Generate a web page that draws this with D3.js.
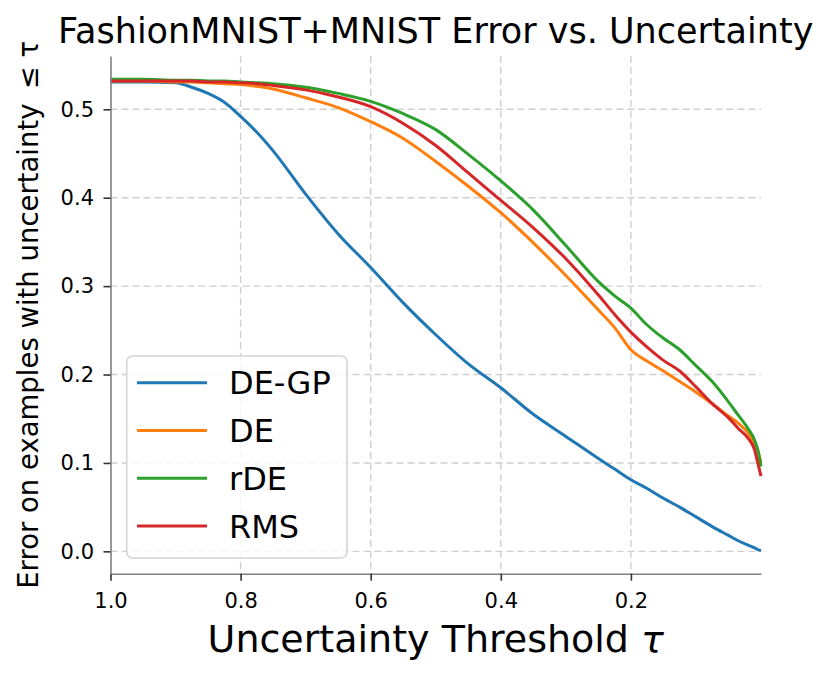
<!DOCTYPE html>
<html>
<head>
<meta charset="utf-8">
<script src="https://cdn.jsdelivr.net/npm/d3@7"></script>
<style>
  body { margin: 0; background: #fff; }
  text { font-family: "DejaVu Sans", sans-serif; }
</style>
</head>
<body>
<svg id="chart" width="830" height="679"></svg>
<script>
// uncertainty thresholds (shared x grid, descending)
const tau = [1.0, 0.95, 0.9, 0.875, 0.85, 0.825, 0.8, 0.775, 0.75, 0.7, 0.65, 0.6, 0.55, 0.5, 0.45, 0.4,
  0.35, 0.3, 0.25, 0.225, 0.2, 0.175, 0.15, 0.125, 0.1, 0.075, 0.05, 0.035, 0.02, 0.01, 0.005, 0.0];

const deGP = [0.531, 0.531, 0.530, 0.525, 0.518, 0.508, 0.492, 0.474, 0.453, 0.404, 0.359, 0.321, 0.281, 0.245, 0.212, 0.185,
  0.155, 0.130, 0.105, 0.093, 0.081, 0.071, 0.060, 0.050, 0.039, 0.028, 0.018, 0.012, 0.007, 0.004, 0.002, 0.001];
const de = [0.532, 0.532, 0.531, 0.531, 0.530, 0.529, 0.528, 0.526, 0.523, 0.513, 0.502, 0.486, 0.467, 0.441, 0.413, 0.383,
  0.349, 0.312, 0.273, 0.253, 0.228, 0.215, 0.204, 0.192, 0.180, 0.167, 0.153, 0.145, 0.134, 0.122, 0.114, 0.100];
const rDE = [0.534, 0.534, 0.533, 0.533, 0.532, 0.532, 0.531, 0.530, 0.529, 0.525, 0.518, 0.509, 0.495, 0.477, 0.449, 0.419,
  0.386, 0.346, 0.305, 0.289, 0.275, 0.256, 0.241, 0.228, 0.210, 0.192, 0.169, 0.154, 0.139, 0.126, 0.115, 0.096];
const rms = [0.532, 0.532, 0.532, 0.532, 0.531, 0.531, 0.530, 0.529, 0.527, 0.522, 0.514, 0.503, 0.484, 0.459, 0.428, 0.397,
  0.366, 0.331, 0.290, 0.268, 0.248, 0.231, 0.216, 0.204, 0.186, 0.167, 0.151, 0.139, 0.128, 0.115, 0.100, 0.085];

const seriesNames = ['DE-GP', 'DE', 'rDE', 'RMS'];
const seriesColors = ['#1f77b4', '#ff7f0e', '#2ca02c', '#d62728'];
const seriesValues = [deGP, de, rDE, rms];

const xTicks = [1.0, 0.8, 0.6, 0.4, 0.2];
const yTicks = [0.0, 0.1, 0.2, 0.3, 0.4, 0.5];

const plot = { left: 110.5, right: 761, top: 56, bottom: 573.7 };

const svg = d3.select('#chart');

const x = d3.scaleLinear().domain([1.0, 0.0]).range([plot.left, plot.right]);
const y = d3.scaleLinear().domain([-0.0253, 0.5603]).range([plot.bottom, plot.top]);

// grid
const grid = svg.append('g').attr('stroke', '#d0d0d0').attr('stroke-width', 1.4)
  .attr('stroke-dasharray', '7,4');
grid.selectAll('.gx')
  .data(xTicks.slice(1))
  .enter()
  .append('line')
  .attr('x1', d => x(d)).attr('x2', d => x(d))
  .attr('y1', plot.top).attr('y2', plot.bottom);
grid.selectAll('.gy')
  .data(yTicks)
  .enter()
  .append('line')
  .attr('x1', plot.left).attr('x2', plot.right)
  .attr('y1', d => y(d)).attr('y2', d => y(d));

// lines
const line = d3.line()
  .x((d, i) => x(tau[i]))
  .y(d => y(d))
  .curve(d3.curveMonotoneX);

svg.selectAll('.series')
  .data(seriesValues)
  .enter()
  .append('path')
  .attr('fill', 'none')
  .attr('stroke', (d, i) => seriesColors[i])
  .attr('stroke-width', 3)
  .attr('stroke-linejoin', 'round')
  .attr('d', d => line(d));

// axes
const xAxis = svg.append('g')
  .attr('transform', `translate(0,${plot.bottom})`)
  .call(d3.axisBottom(x).tickValues(xTicks).tickFormat(d3.format('.1f'))
    .tickSize(7).tickSizeOuter(0).tickPadding(12.5));
const yAxis = svg.append('g')
  .attr('transform', `translate(${plot.left},0)`)
  .call(d3.axisLeft(y).tickValues(yTicks).tickFormat(d3.format('.1f'))
    .tickSize(7).tickSizeOuter(0).tickPadding(9.5));

[xAxis, yAxis].forEach(ax => {
  ax.select('.domain').attr('stroke', '#808080').attr('stroke-width', 1.6);
  ax.selectAll('.tick line').attr('stroke', '#333').attr('stroke-width', 1.6);
  ax.selectAll('.tick text').attr('font-size', 21).attr('fill', '#000')
    .attr('font-family', '"DejaVu Sans", sans-serif');
});

// title and labels
const midX = (plot.left + plot.right) / 2;
svg.append('text')
  .attr('x', midX).attr('y', 43.3)
  .attr('text-anchor', 'middle').attr('font-size', 35)
  .text('FashionMNIST+MNIST Error vs. Uncertainty');

const xl = svg.append('text')
  .attr('x', midX).attr('y', 651.7)
  .attr('text-anchor', 'middle').attr('font-size', 38);
xl.append('tspan').text('Uncertainty Threshold ');
xl.append('tspan').attr('font-style', 'italic').text('τ');

svg.append('text')
  .attr('transform', `translate(38,${(plot.top + plot.bottom) / 2}) rotate(-90)`)
  .attr('text-anchor', 'middle').attr('font-size', 27.5)
  .text('Error on examples with uncertainty \u2009≤ τ');

// legend
const legend = svg.append('g');
legend.append('rect')
  .attr('x', 126.7).attr('y', 356).attr('width', 220.3).attr('height', 202)
  .attr('rx', 6)
  .attr('fill', 'rgba(255,255,255,0.8)')
  .attr('stroke', '#d5d5d5').attr('stroke-width', 1.6);

const rows = legend.selectAll('.row')
  .data(seriesNames)
  .enter()
  .append('g')
  .attr('transform', (d, i) => `translate(0,${382.7 + i * 47.8})`);
rows.append('line')
  .attr('x1', 137).attr('x2', 207)
  .attr('stroke', (d, i) => seriesColors[i])
  .attr('stroke-width', 3);
rows.append('text')
  .attr('x', 229).attr('y', 11.6)
  .attr('font-size', 32)
  .text(d => d);
</script>
</body>
</html>
